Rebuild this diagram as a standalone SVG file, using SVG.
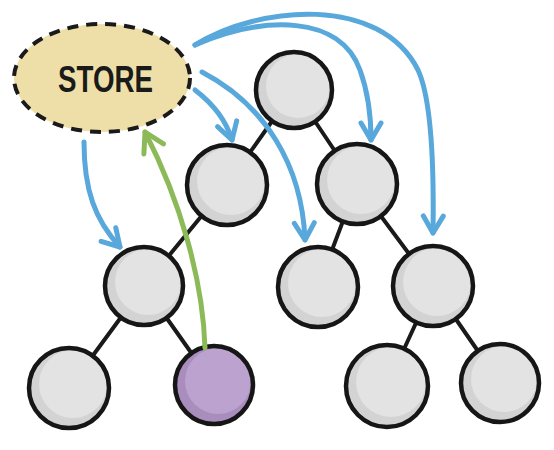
<svg xmlns="http://www.w3.org/2000/svg" width="554" height="450" viewBox="0 0 554 450">
<defs>
<style>
.edge{stroke:#1a1a1a;stroke-width:4;stroke-linecap:round;fill:none}
.base{fill:#d3d3d3}
.hi{fill:#e3e3e3}
.pbase{fill:#a88dbd}
.phi{fill:#bba2cf}
.ring{fill:none;stroke:#161616;stroke-width:4.5}
.blue{stroke:#58a8dc;stroke-width:5;fill:none;stroke-linecap:round}
.green{stroke:#8cba58;stroke-width:5;fill:none;stroke-linecap:round}
.store{fill:#eedfa8;stroke:#1a1a1a;stroke-width:4;stroke-dasharray:11 8}
.label{font-family:"Liberation Sans",Arial,sans-serif;font-weight:bold;font-size:37px;fill:#1a1a1a}
</style>
<marker id="ab" markerUnits="userSpaceOnUse" orient="auto" markerWidth="40" markerHeight="40" refX="0" refY="0" viewBox="-20 -20 40 40" overflow="visible">
<path d="M-17,-10 L0,0 L-17,10" fill="none" stroke="#58a8dc" stroke-width="5" stroke-linecap="round" stroke-linejoin="round"/>
</marker>
<marker id="ag" markerUnits="userSpaceOnUse" orient="auto" markerWidth="40" markerHeight="40" refX="0" refY="0" viewBox="-20 -20 40 40" overflow="visible">
<path d="M-19,-11 L0,0 L-19,11" fill="none" stroke="#8cba58" stroke-width="5" stroke-linecap="round" stroke-linejoin="round"/>
</marker>
</defs>
<rect width="554" height="450" fill="#ffffff"/>
<g id="tree-edges">
<line class="edge" x1="294" y1="90" x2="227" y2="185"/>
<line class="edge" x1="294" y1="90" x2="357" y2="184"/>
<line class="edge" x1="227" y1="185" x2="144" y2="286"/>
<line class="edge" x1="357" y1="184" x2="318" y2="287"/>
<line class="edge" x1="357" y1="184" x2="433" y2="286"/>
<line class="edge" x1="144" y1="286" x2="69" y2="388"/>
<line class="edge" x1="144" y1="286" x2="214" y2="385"/>
<line class="edge" x1="433" y1="286" x2="387" y2="386"/>
<line class="edge" x1="433" y1="286" x2="500" y2="383"/>
</g>
<g id="store">
<ellipse class="store" cx="102" cy="78" rx="88" ry="54"/>
<text class="label" x="58" y="92" textLength="95" lengthAdjust="spacingAndGlyphs">STORE</text>
</g>
<g id="n1"><circle class="base" cx="294" cy="90" r="38"/><circle class="hi" cx="298" cy="86" r="32"/><circle class="ring" cx="294" cy="90" r="38"/></g>
<g id="n2"><circle class="base" cx="227" cy="185" r="40"/><circle class="hi" cx="231" cy="181" r="34"/><circle class="ring" cx="227" cy="185" r="40"/></g>
<g id="n3"><circle class="base" cx="357" cy="184" r="40"/><circle class="hi" cx="361" cy="180" r="34"/><circle class="ring" cx="357" cy="184" r="40"/></g>
<g id="n4"><circle class="base" cx="144" cy="286" r="39"/><circle class="hi" cx="148" cy="282" r="33"/><circle class="ring" cx="144" cy="286" r="39"/></g>
<g id="n5"><circle class="base" cx="318" cy="287" r="40"/><circle class="hi" cx="322" cy="283" r="34"/><circle class="ring" cx="318" cy="287" r="40"/></g>
<g id="n6"><circle class="base" cx="433" cy="286" r="40"/><circle class="hi" cx="437" cy="282" r="34"/><circle class="ring" cx="433" cy="286" r="40"/></g>
<g id="n7"><circle class="base" cx="69" cy="388" r="40"/><circle class="hi" cx="73" cy="384" r="34"/><circle class="ring" cx="69" cy="388" r="40"/></g>
<g id="n8"><circle class="pbase" cx="214" cy="385" r="39"/><circle class="phi" cx="218" cy="381" r="33"/><circle class="ring" cx="214" cy="385" r="39"/></g>
<g id="n9"><circle class="base" cx="387" cy="386" r="41"/><circle class="hi" cx="391" cy="382" r="35"/><circle class="ring" cx="387" cy="386" r="41"/></g>
<g id="n10"><circle class="base" cx="500" cy="383" r="39"/><circle class="hi" cx="504" cy="379" r="33"/><circle class="ring" cx="500" cy="383" r="39"/></g>
<g id="connectors">
<path class="blue" d="M84,142 C84,190 95,220 120,247" marker-end="url(#ab)"/>
<path class="blue" d="M195,90 C212,103 226,120 232,140" marker-end="url(#ab)"/>
<path class="blue" d="M202,72 C265,105 302,165 305,240" marker-end="url(#ab)"/>
<path class="blue" d="M195,45 C265,15 340,15 360,70 C368,92 371,115 371,140" marker-end="url(#ab)"/>
<path class="blue" d="M195,45 C260,5 380,-5 418,70 C432,100 434,170 433,233" marker-end="url(#ab)"/>
<path class="green" d="M205,348 C203,280 180,200 145,132" marker-end="url(#ag)"/>
</g>
</svg>
